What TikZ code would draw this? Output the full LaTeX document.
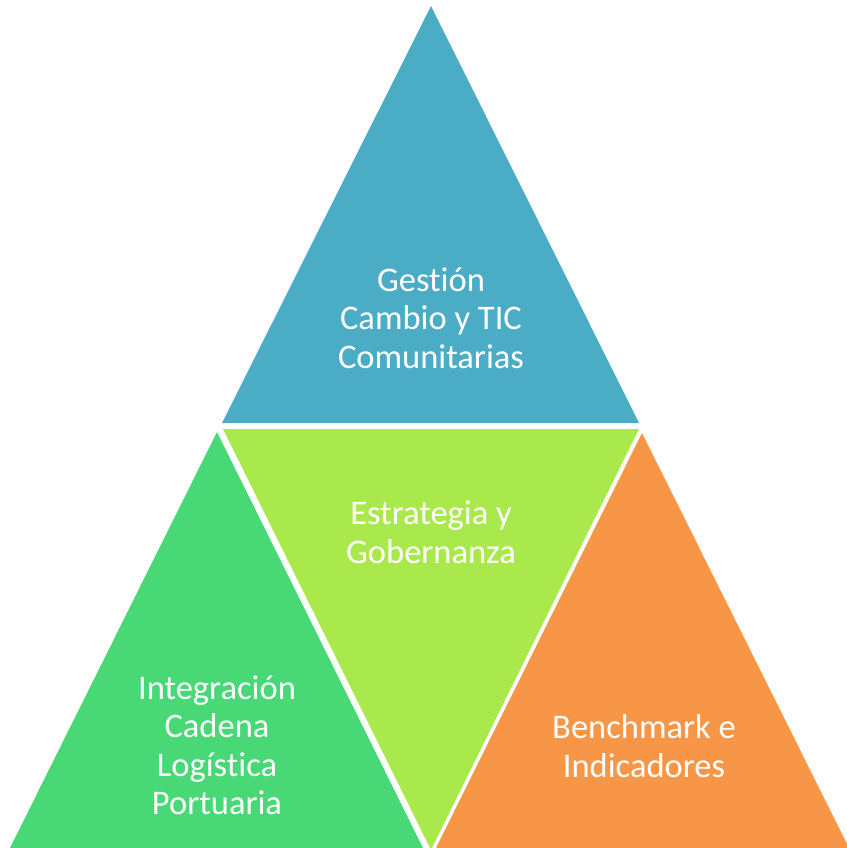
\documentclass[tikz,border=0pt]{standalone}
\usepackage{fontspec}
\setmainfont{Carlito}[Ligatures=NoCommon]
\definecolor{tribluefill}{HTML}{4BACC6}
\definecolor{trilimefill}{HTML}{AAE94C}
\definecolor{trigreenfill}{HTML}{48D876}
\definecolor{triorangefill}{HTML}{F79646}
\begin{document}
\begin{tikzpicture}[x=1pt,y=-1pt,
  tritext/.style={text=white,align=center,inner sep=0pt,
    font=\fontsize{34.5}{38.5}\selectfont}]
\useasboundingbox (0,0) rectangle (846,848);
% four triangles separated by thin white gaps
\fill[tribluefill]   (431,6)   -- (639,423) -- (222,423) -- cycle;
\fill[trilimefill]   (223,429) -- (639,429) -- (431,850) -- cycle;
\fill[trigreenfill]  (217,432) -- (424,850) -- (9,850)   -- cycle;
\fill[triorangefill] (642,433) -- (850,850) -- (435,850) -- cycle;
% labels
\node[tritext] (gestion)     at (431,318) {Gestión\\Cambio y TIC\\Comunitarias};
\node[tritext] (estrategia)  at (431,532.5) {Estrategia y\\Gobernanza};
\node[tritext] (integracion) at (217,745) {Integración\\Cadena\\Logística\\Portuaria};
\node[tritext] (benchmark)   at (644,746) {Benchmark e\\Indicadores};
\end{tikzpicture}
\end{document}
